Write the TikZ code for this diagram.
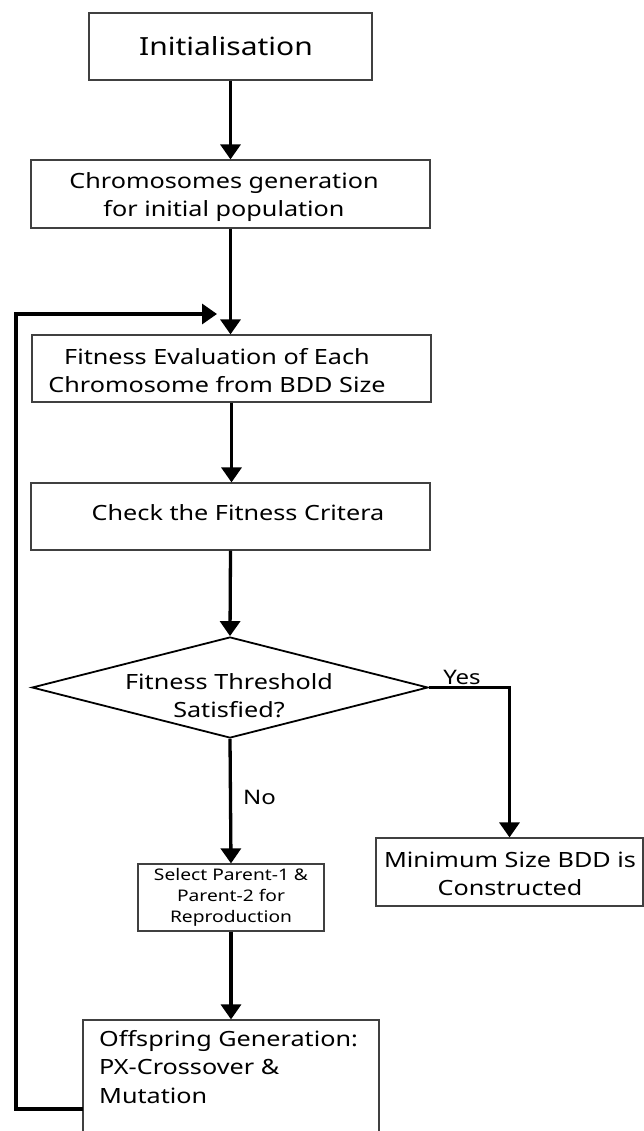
\documentclass[tikz,border=0pt]{standalone}
\usepackage{fontspec}
\setmainfont[FakeStretch=1.2]{Noto Sans}
\usetikzlibrary{arrows.meta,shapes.geometric}
\begin{document}
\begin{tikzpicture}[x=1pt,y=-1pt,
  box/.style={draw=black!75,line width=1.2pt,inner sep=0pt},
  txt/.style={inner sep=0pt,align=center,font=\fontsize{21}{28}\selectfont},
  decision/.style={draw=black,line width=1.8pt,diamond,inner sep=0pt,minimum width=396pt,minimum height=101pt},
  arr/.style={line width=3.3pt,-{Triangle[width=20pt,length=15pt]}},
  lbl/.style={inner sep=0pt,font=\fontsize{20}{24}\selectfont}]
\useasboundingbox (0,0) rectangle (644,1131);
\clip (0,0) rectangle (644,1131);
% boxes
\node[box,minimum width=283pt,minimum height=67pt] (init) at (230.5,46.5) {};
\node[txt,font=\fontsize{25}{30}\selectfont] (initt) at (226,46) {Initialisation};
\node[box,minimum width=399pt,minimum height=68pt] (chrom) at (230.5,194) {};
\node[txt] (chromt) at (224,197) {Chromosomes generation\\for initial population};
\node[box,minimum width=399pt,minimum height=67pt] (fit) at (231.5,368.5) {};
\node[txt] (fitt) at (217,371) {Fitness Evaluation of Each\\Chromosome from BDD Size};
\node[box,minimum width=399pt,minimum height=67pt] (check) at (230.5,516.5) {};
\node[txt] (checkt) at (238,513) {Check the Fitness Critera};
\node[decision] (dec) at (230,687.5) {};
\node[txt] (dect) at (229,695.5) {Fitness Threshold\\Satisfied?};
\node[box,minimum width=186pt,minimum height=67pt] (sel) at (231,897.5) {};
\node[txt,font=\fontsize{16}{21}\selectfont] (selt) at (231,897) {Select Parent-1 \&\\Parent-2 for\\Reproduction};
\node[box,minimum width=267pt,minimum height=68pt] (min) at (509.5,872) {};
\node[txt] (mint) at (510,874) {Minimum Size BDD is\\Constructed};
\node[box,minimum width=296pt,minimum height=140pt] (off) at (231,1090) {};
\node[txt,align=left,anchor=north west,font=\fontsize{21}{28.5}\selectfont] (offt) at (99,1030) {Offspring Generation:\\PX-Crossover \&\\Mutation};
% connectors
\draw[arr] (init.south) -- (chrom.north);
\draw[arr] (chrom.south) -- (chrom.south |- fit.north);
\draw[arr] (fit.south) -- (fit.south |- check.north);
\draw[arr] (check.south) -- (dec.north);
\draw[arr] (dec.south) -- (sel.north) node[lbl,pos=0.47,right=11pt] (no) {No};
\draw[arr] (dec.east) -| (min.north);
\node[lbl] (yes) at (462,677) {Yes};
\draw[arr] (sel.south) -- (off.north);
\coordinate (fbout) at (83,1109);
\coordinate (fbin) at (217,314);
\draw[arr] (fbout) -- (16,1109) -- (16,314) -- (fbin);
\end{tikzpicture}
\end{document}
